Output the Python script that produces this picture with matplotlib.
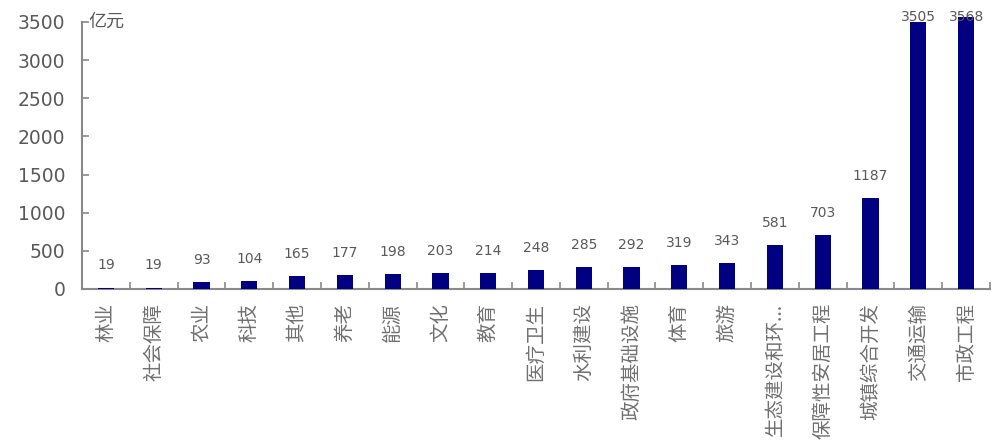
import matplotlib.pyplot as plt
import numpy as np

plt.rcParams['font.family'] = ['DejaVu Sans']

categories = ['林业', '社会保障', '农业', '科技', '其他', '养老', '能源', '文化', '教育',
              '医疗卫生', '水利建设', '政府基础设施', '体育', '旅游', '生态建设和环...',
              '保障性安居工程', '城镇综合开发', '交通运输', '市政工程']
values = [19, 19, 93, 104, 165, 177, 198, 203, 214, 248, 285, 292, 319, 343,
          581, 703, 1187, 3505, 3568]
yticks = [0, 500, 1000, 1500, 2000, 2500, 3000, 3500]

bar_color = '#000080'
text_color = '#595959'
axis_color = '#898989'
cjk = ['Noto Sans CJK SC', 'DejaVu Sans']

fig = plt.figure(figsize=(10, 4.48), dpi=100)
ax = fig.add_axes([0.082, 0.355, 0.908, 0.596])

x = np.arange(len(categories))
ax.bar(x, values, width=0.34, color=bar_color, clip_on=False, zorder=3)

# value labels sit a fixed distance above each bar, held inside the top of the frame
for xi, v in zip(x, values):
    ax.text(xi, min(v + 290, 3565), str(v), ha='center', va='center',
            fontsize=10, color=text_color, zorder=4)

ax.set_xlim(-0.5, len(categories) - 0.5)
ax.set_ylim(0, 3500)
ax.set_yticks(yticks)
ax.set_yticklabels([str(t) for t in yticks], fontsize=13.5, color=text_color)

ax.set_xticks(x)
ax.set_xticklabels(categories, rotation=90, ha='center', va='top', fontsize=14,
                   fontweight='light', color='#707070', family=cjk)
ax.set_xticks(np.arange(-0.5, len(categories)), minor=True)
ax.tick_params(axis='x', which='major', length=0, pad=10)
ax.tick_params(axis='x', which='minor', direction='in', length=5, color=axis_color, width=1.2)
ax.tick_params(axis='y', direction='in', length=5, color=axis_color, width=1.2, pad=12)

for side in ['top', 'right']:
    ax.spines[side].set_visible(False)
for side in ['left', 'bottom']:
    ax.spines[side].set_color(axis_color)
    ax.spines[side].set_linewidth(1.5)

ax.text(0.007, 1.0, '亿元', transform=ax.transAxes, ha='left', va='center',
        fontsize=13, fontweight='light', color=text_color, style='italic', family=cjk)

fig.savefig('out.png', dpi=100)
